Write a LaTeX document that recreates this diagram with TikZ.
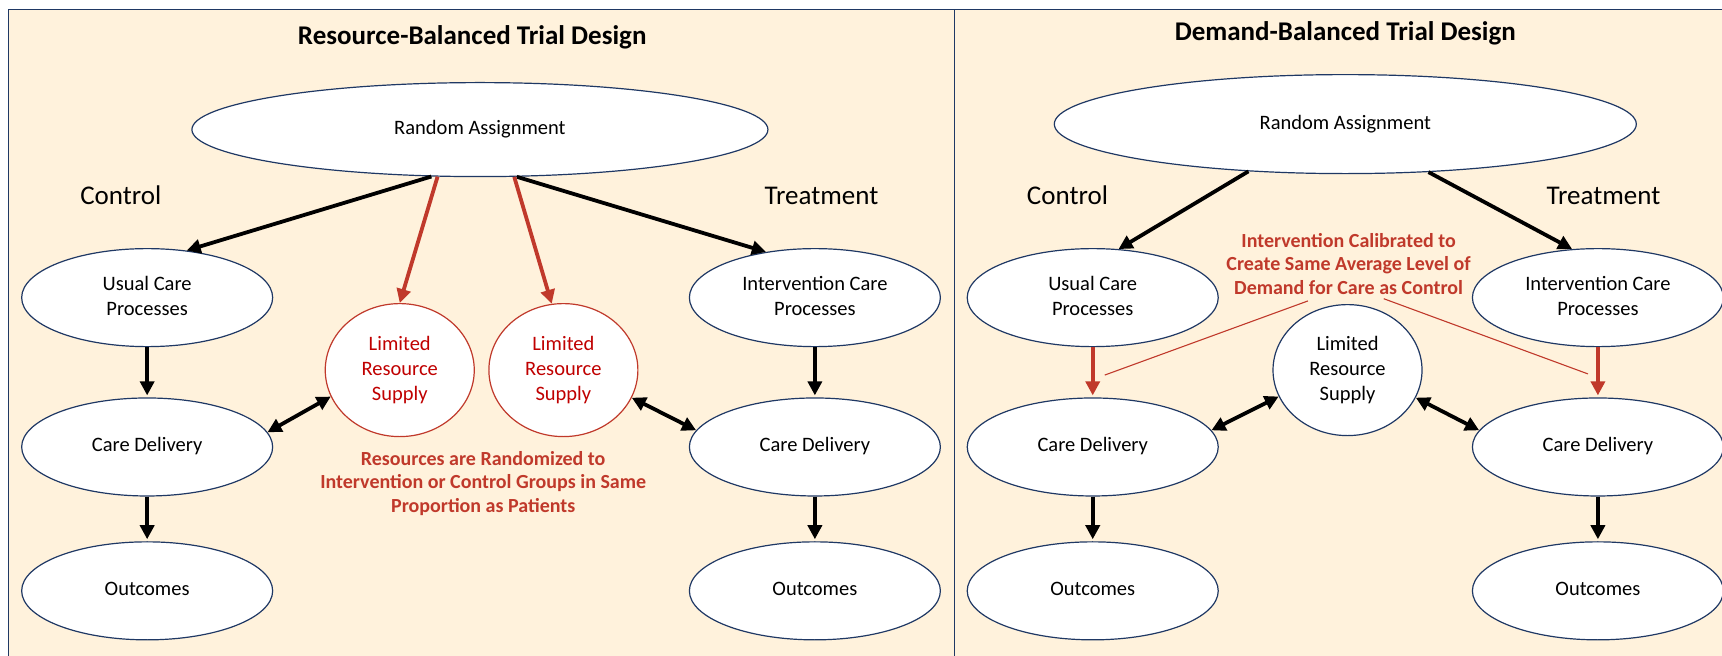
\documentclass[tikz,border=0pt]{standalone}
\usepackage{fontspec}
\setmainfont{Carlito}
\usetikzlibrary{shapes.geometric,arrows.meta}
\definecolor{cream}{RGB}{255,242,220}
\definecolor{navy}{RGB}{31,56,100}
\definecolor{redA}{RGB}{192,57,43}
\definecolor{redT}{RGB}{192,0,0}
\newcommand{\ctx}[1]{\makebox[0pt]{\begin{tabular}{@{}c@{}}#1\end{tabular}}}
\begin{document}
\begin{tikzpicture}[x=1.0982pt,y=-1.0982pt,
  ell/.style={ellipse,draw=navy,line width=1.2pt,fill=white,inner sep=0pt,font=\fontsize{20.5}{25}\selectfont},
  box/.style={ell,minimum width=251pt,minimum height=98pt},
  rbox/.style={ell,draw=redA,text=redT,minimum width=149pt,minimum height=133pt},
  title/.style={font=\fontsize{27}{32}\selectfont\bfseries},
  side/.style={font=\fontsize{27}{32}\selectfont},
  note/.style={align=center,text=redA,font=\fontsize{20}{23.5}\selectfont\bfseries},
  blk/.style={line width=3.8pt,-{Triangle[length=14pt,width=14pt]}},
  dbl/.style={line width=3.8pt,{Triangle[length=14pt,width=14pt]}-{Triangle[length=14pt,width=14pt]}},
  redarr/.style={draw=redA,line width=3.8pt,-{Triangle[length=14pt,width=14pt]}},
  thinred/.style={draw=redA,line width=1.1pt}
]
\useasboundingbox (0,0) rectangle (1568,597.3);
\fill[cream] (8,9) rectangle (1580,610);
\draw[navy,line width=1.2pt] (8,610) -- (8,9) -- (1580,9);
\draw[navy,line width=1.2pt] (869,9) -- (869,610);

% ---------- left panel
\node[title] (t1) at (430,34) {Resource-Balanced Trial Design};
\node[ell,minimum width=576pt,minimum height=94pt] (ra1) at (437,118) {\ctx{Random Assignment}};
\node[side] (ctrl1) at (110,178) {Control};
\node[side] (trt1) at (748,178) {Treatment};
\node[box] (ucp1) at (134,271) {\ctx{Usual Care\\Processes}};
\node[box] (cd1) at (134,407) {\ctx{Care Delivery}};
\node[box] (out1) at (134,538) {\ctx{Outcomes}};
\node[box] (icp1) at (742,271) {\ctx{Intervention Care\\Processes}};
\node[box] (cd2) at (742,407) {\ctx{Care Delivery}};
\node[box] (out2) at (742,538) {\ctx{Outcomes}};
\node[rbox] (lrs1) at (364,337) {\ctx{Limited\\Resource\\Supply}};
\node[rbox] (lrs2) at (513,337) {\ctx{Limited\\Resource\\Supply}};
\node[note] (n1) at (440,440) {Resources are Randomized to\\Intervention or Control Groups in Same\\Proportion as Patients};

\draw[blk] (ra1.-136) -- (ucp1.50);
\draw[blk] (ra1.-52) -- (icp1.137);
\draw[redarr] (ra1.-132) -- (lrs1.north);
\draw[redarr] (ra1.-54) -- (lrs2.100);
\draw[blk,shorten >=2pt] (ucp1.south) -- (cd1.north);
\draw[blk,shorten >=2pt] (cd1.south) -- (out1.north);
\draw[blk,shorten >=2pt] (icp1.south) -- (cd2.north);
\draw[blk,shorten >=2pt] (cd2.south) -- (out2.north);
\draw[dbl] (cd1.7) -- (lrs1.201);
\draw[dbl] (lrs2.-22) -- (cd2.172);

% ---------- right panel
\node[title] (t2) at (1225,30) {Demand-Balanced Trial Design};
\node[ell,minimum width=582pt,minimum height=99pt] (ra2) at (1225,113) {\ctx{Random Assignment}};
\node[side] (ctrl2) at (972,178) {Control};
\node[side] (trt2) at (1460,178) {Treatment};
\node[box] (ucp3) at (995,271) {\ctx{Usual Care\\Processes}};
\node[box] (cd3) at (995,407) {\ctx{Care Delivery}};
\node[box] (out3) at (995,538) {\ctx{Outcomes}};
\node[box] (icp4) at (1455,271) {\ctx{Intervention Care\\Processes}};
\node[box] (cd4) at (1455,407) {\ctx{Care Delivery}};
\node[box] (out4) at (1455,538) {\ctx{Outcomes}};
\node[ell,minimum width=149pt,minimum height=131pt] (lrs3) at (1227,337) {\ctx{Limited\\Resource\\Supply}};
\node[note] (n2) at (1228,240) {Intervention Calibrated to\\Create Same Average Level of\\Demand for Care as Control};
\coordinate (la) at (1191,274);
\coordinate (lb) at (1006,341.5);
\coordinate (lc) at (1260,272);
\coordinate (ld) at (1446,340.5);

\draw[blk] (ra2.-154) -- (ucp3.62);
\draw[blk] (ra2.-30) -- (icp4.118);
\draw[redarr,shorten >=2pt] (ucp3.south) -- (cd3.north);
\draw[redarr,shorten >=2pt] (icp4.south) -- (cd4.north);
\draw[blk,shorten >=2pt] (cd3.south) -- (out3.north);
\draw[blk,shorten >=2pt] (cd4.south) -- (out4.north);
\draw[dbl] (cd3.8) -- (lrs3.201);
\draw[dbl] (lrs3.-22) -- (cd4.172);
\draw[thinred] (la) -- (lb);
\draw[thinred] (lc) -- (ld);
\end{tikzpicture}
\end{document}
